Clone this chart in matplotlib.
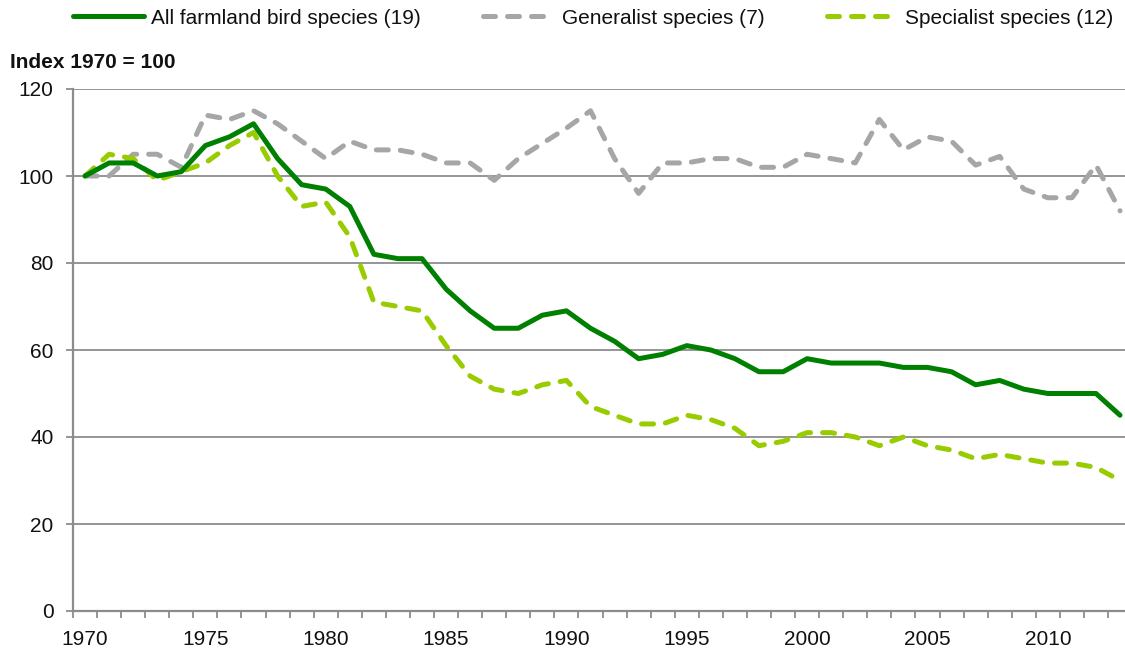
import numpy as np
import matplotlib
matplotlib.use("Agg")
import matplotlib.pyplot as plt
from matplotlib.ticker import MultipleLocator, FixedLocator

plt.rcParams["font.family"] = ["Liberation Sans", "DejaVu Sans"]

YEARS = list(range(1970, 2014))
ALL_FARMLAND = [100, 103, 103, 100, 101, 107, 109, 112, 104, 98,
                97, 93, 82, 81, 81, 74, 69, 65, 65, 68,
                69, 65, 62, 58, 59, 61, 60, 58, 55, 55,
                58, 57, 57, 57, 56, 56, 55, 52, 53, 51,
                50, 50, 50, 45]
GENERALIST = [100, 100, 105, 105, 102, 114, 113, 115, 112, 108,
              104, 108, 106, 106, 105, 103, 103, 99, 104, 107.5,
              111, 115, 104, 96, 103, 103, 104, 104, 102, 102,
              105, 104, 103, 113, 106, 109, 108, 102.5, 104.5, 97,
              95, 95, 102.5, 92]
SPECIALIST = [100, 105, 104, 99, 101, 103, 107, 110, 100, 93,
              94, 86, 71, 70, 69, 61, 54, 51, 50, 52,
              53, 47, 45, 43, 43, 45, 44, 42, 38, 39,
              41, 41, 40, 38, 40, 38, 37, 35, 36, 35,
              34, 34, 33, 30]
LABELS = ["All farmland bird species (19)", "Generalist species (7)",
          "Specialist species (12)"]

GREEN = "#008000"
LIGHT = "#99cc00"
GREY = "#a6a6a6"
AXIS = "#8c8c8c"
TXT = "#111111"
FS = 15

fig = plt.figure(figsize=(11.25, 6.52), dpi=100)
ax = fig.add_axes([73 / 1125, 41 / 652, (1125 - 73) / 1125, 522 / 652])

lw = 3.6
ax.plot(YEARS, ALL_FARMLAND, color=GREEN, lw=lw, solid_capstyle="round",
        solid_joinstyle="round", label=LABELS[0], zorder=3)
ax.plot(YEARS, GENERALIST, color=GREY, lw=lw, dashes=(2.4, 2.4),
        dash_capstyle="round", dash_joinstyle="round", label=LABELS[1], zorder=2)
ax.plot(YEARS, SPECIALIST, color=LIGHT, lw=lw, dashes=(2.4, 2.4),
        dash_capstyle="round", dash_joinstyle="round", label=LABELS[2], zorder=2)

ax.set_xlim(1969.5, 1969.5 + (1125 - 73) / 24.07)
ax.set_ylim(0, 120)
ax.yaxis.set_major_locator(MultipleLocator(20))
ax.grid(axis="y", color=AXIS, lw=1.3)
ax.set_axisbelow(True)

# year labels sit between the category tick marks
ax.xaxis.set_major_locator(FixedLocator(list(range(1970, 2014, 5))))
ax.xaxis.set_minor_locator(FixedLocator(list(np.arange(1969.5, 2013.6, 1.0))))
ax.tick_params(axis="x", which="major", length=0, pad=14, labelsize=FS, labelcolor=TXT)
ax.tick_params(axis="x", which="minor", length=5, width=1.3, color=AXIS, direction="out")
ax.tick_params(axis="y", length=5, width=1.3, color=AXIS, pad=9, labelsize=FS,
               labelcolor=TXT)

for s in ["top", "right"]:
    ax.spines[s].set_visible(False)
for s in ["left", "bottom"]:
    ax.spines[s].set_color(AXIS)
    ax.spines[s].set_linewidth(1.6)

fig.text(10 / 1125, 1 - 63 / 652, "Index 1970 = 100", fontsize=FS, fontweight="bold",
         color=TXT, va="center", ha="left")

fig.legend(loc="center", bbox_to_anchor=(593 / 1125, 1 - 18 / 652), ncol=3, frameon=False,
           fontsize=FS, handlelength=3.4, handletextpad=0.35, columnspacing=3.0,
           labelcolor=TXT)

fig.savefig("out.png", dpi=100)
